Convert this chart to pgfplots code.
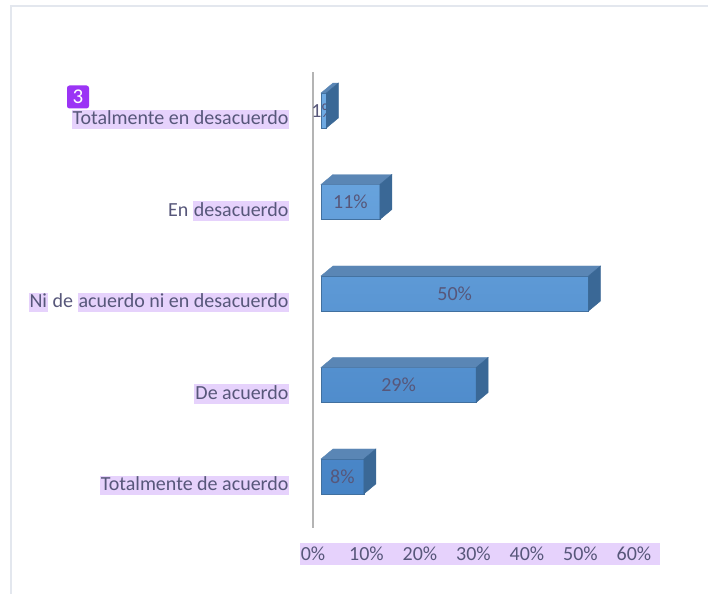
\documentclass[border=0pt]{standalone}
\usepackage{pgfplots}
\pgfplotsset{compat=1.18}
\usepackage{fontspec}
\setmainfont{Carlito}
\definecolor{txt}{HTML}{57577A}
\definecolor{hlc}{HTML}{E6D2FC}
\definecolor{bord}{HTML}{E3E7EE}
\definecolor{axisc}{HTML}{B4B4B4}
\definecolor{fronttop}{HTML}{71ACE4}
\definecolor{frontbot}{HTML}{4683C5}
\definecolor{topc}{HTML}{5A86B5}
\definecolor{sidec}{HTML}{3A6896}
\definecolor{edgec}{HTML}{41709F}
\definecolor{badge}{HTML}{9B34F5}
\newcommand\hl[1]{{\setlength\fboxsep{1bp}\colorbox{hlc}{\vphantom{Tgy}#1}}}
\newcommand\lbl{\fontsize{20bp}{23bp}\selectfont}
\pgfdeclareplotmark{bar3d}{%
  \pgfmathsetmacro\L{5.35*\rx}%
  \fill[topc] (-\L bp,17.5bp) -- (-\L bp+12bp,27.5bp) -- (12bp,27.5bp) -- (0bp,17.5bp) -- cycle;
  \fill[sidec] (0bp,17.5bp) -- (12bp,27.5bp) -- (12bp,-7.5bp) -- (0bp,-17.5bp) -- cycle;
}
\begin{document}
\begin{tikzpicture}
\useasboundingbox (0bp,0bp) rectangle (708bp,594bp);
\fill[white] (0bp,0bp) rectangle (708bp,594bp);
\draw[bord, line width=2bp] (11bp,-2bp) -- (11bp,588bp) -- (710bp,588bp);
\fill[hlc] (300bp,29bp) rectangle (660bp,51bp);
\begin{axis}[
  at={(313bp,66bp)}, anchor=south west,
  scale only axis, width=321bp, height=456bp,
  xmin=0, xmax=60, ymin=-0.563, ymax=4.421,
  /pgf/number format/assume math mode=true,
  axis lines*=left,
  axis line style={-},
  x axis line style={draw=none},
  y axis line style={draw=axisc, line width=2bp},
  major tick length=0pt,
  xtick={0,10,...,60},
  xticklabels={0\%,10\%,20\%,30\%,40\%,50\%,60\%},
  ytick={0,1,2,3,4},
  yticklabels={\hl{Totalmente de acuerdo},\hl{De acuerdo},{\hl{Ni} de \hl{acuerdo ni en desacuerdo}},{En \hl{desacuerdo}},\hl{Totalmente en desacuerdo}},
  tick label style={font=\lbl, text=txt},
  xticklabel style={anchor=center, yshift=-26bp},
  yticklabel style={anchor=east, xshift=-20bp, yshift=-9bp},
  clip=false,
]
\addplot[xbar, bar width=35bp, bar shift=0pt, xshift=8bp, draw=edgec, line width=0.4bp,
  top color=fronttop, bottom color=frontbot,
  point meta=x,
  visualization depends on=rawx \as \rx,
  nodes near coords={\pgfmathprintnumber[assume math mode=true]{\pgfplotspointmeta}\%},
  every node near coord/.style={anchor=center, xshift={-2.675*\rx*1bp}, font=\lbl, text=txt}]
  coordinates {(8,0) (29,1) (50,2) (11,3) (1,4)};
\addplot[only marks, xshift=8bp, mark=bar3d, visualization depends on=rawx \as \rx]
  coordinates {(8,0) (29,1) (50,2) (11,3) (1,4)};
\end{axis}
\node[fill=badge, rounded corners=2.5bp, minimum width=22bp, minimum height=23bp, inner sep=0pt, text=white, font=\fontsize{21bp}{22bp}\selectfont] at (78bp,497bp) {3};
\end{tikzpicture}
\end{document}
